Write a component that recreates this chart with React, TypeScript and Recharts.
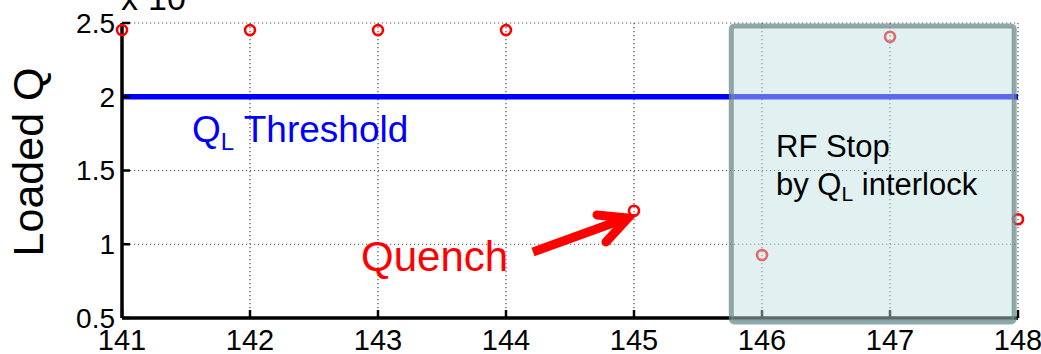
import React from 'react';
import {
  ComposedChart,
  Scatter,
  XAxis,
  YAxis,
  CartesianGrid,
  ReferenceLine,
  ReferenceArea,
} from 'recharts';

const days = [141, 142, 143, 144, 145, 146, 147, 148];
const loadedQ = [2.453, 2.452, 2.452, 2.452, 1.227, 0.927, 2.407, 1.17];
const xTicks = [141, 142, 143, 144, 145, 146, 147, 148];
const yTicks = [0.5, 1, 1.5, 2, 2.5];
const threshold = 2.0;
const stopStart = 145.76;
const stopEnd = 147.97;
const stopLow = 0.473;
const stopHigh = 2.48;

const data = days.map((d, i) => ({ x: d, y: loadedQ[i] }));

const FONT = '"Liberation Sans", Arial, sans-serif';

const Ring = (props: any) => {
  const { cx, cy } = props;
  if (cx == null || cy == null) return null;
  return <circle cx={cx} cy={cy} r={5} fill="none" stroke="#ff0000" strokeWidth={2.6} />;
};

export default function App() {
  return (
    <div style={{ position: 'absolute', left: 0, top: 0, width: 1041, height: 354, background: '#fff', fontFamily: FONT }}>
      <ComposedChart
        width={1041}
        height={354}
        data={data}
        margin={{ top: 23, right: 23, bottom: 0, left: 0 }}
      >
        <CartesianGrid stroke="#555" strokeDasharray="1.2 2.8" strokeWidth={1.2} />
        <XAxis
          dataKey="x"
          type="number"
          domain={[141, 148]}
          ticks={xTicks}
          height={36}
          axisLine={{ stroke: '#000', strokeWidth: 3.5 }}
          tickLine={{ stroke: '#000', strokeWidth: 2.5 }}
          tickSize={-8}
          tickMargin={19}
          tick={{ fill: '#000', fontSize: 29, fontFamily: FONT }}
          interval={0}
        />
        <XAxis
          xAxisId="top"
          orientation="top"
          type="number"
          domain={[141, 148]}
          ticks={xTicks}
          height={0}
          axisLine={{ stroke: '#000', strokeWidth: 3.5 }}
          tickLine={{ stroke: '#000', strokeWidth: 2.5 }}
          tickSize={-8}
          tickFormatter={() => ''}
        />
        <YAxis
          dataKey="y"
          type="number"
          domain={[0.5, 2.5]}
          ticks={yTicks}
          width={122}
          axisLine={{ stroke: '#000', strokeWidth: 3.5 }}
          tickLine={{ stroke: '#000', strokeWidth: 2.5 }}
          tickSize={-8}
          tickMargin={15}
          tick={{ fill: '#000', fontSize: 28, fontFamily: FONT }}
          interval={0}
        />
        <YAxis
          yAxisId="right"
          orientation="right"
          type="number"
          domain={[0.5, 2.5]}
          ticks={yTicks}
          width={0}
          axisLine={{ stroke: '#000', strokeWidth: 3.5 }}
          tickLine={{ stroke: '#000', strokeWidth: 2.5 }}
          tickSize={-8}
          tickFormatter={() => ''}
        />
        <ReferenceLine y={threshold} stroke="#0000ff" strokeWidth={5.5} />
        <Scatter data={data} dataKey="y" shape={<Ring />} isAnimationActive={false} />
        <ReferenceArea
          x1={stopStart}
          x2={stopEnd}
          y1={stopLow}
          y2={stopHigh}
          ifOverflow="visible"
          fill="rgb(192,224,226)"
          fillOpacity={0.47}
          stroke="rgb(104,136,136)"
          strokeOpacity={0.72}
          strokeWidth={5}
          radius={3}
          zIndex={2000}
        />
      </ComposedChart>
      <svg
        width={1041}
        height={354}
        style={{ position: 'absolute', left: 0, top: 0, pointerEvents: 'none' }}
        fontFamily={FONT}
      >
        <text x={121} y={10} fontSize={34} fill="#000">x</text>
        <text x={148} y={10} fontSize={34} fill="#000">10</text>
        <text
          x={43}
          y={162}
          fontSize={43}
          fill="#000"
          textAnchor="middle"
          transform="rotate(-90 43 162)"
        >
          Loaded Q
        </text>
        <text x={192} y={142} fontSize={37} fill="#0000ff">
          Q<tspan fontSize={24} dy={8}>L</tspan>
          <tspan dy={-8}> Threshold</tspan>
        </text>
        <text x={361} y={271} fontSize={42} fill="#ff0000">Quench</text>
        <line x1={533} y1={252} x2={624} y2={219} stroke="#ff0000" strokeWidth={9} />
        <polyline
          points="597,215 628,218 606,242"
          fill="none"
          stroke="#ff0000"
          strokeWidth={9}
          strokeLinejoin="miter"
          strokeLinecap="round"
        />
        <text x={776} y={157} fontSize={31} fill="#000">RF Stop</text>
        <text x={776} y={195} fontSize={31} fill="#000">
          by Q<tspan fontSize={21} dy={6}>L</tspan>
          <tspan dy={-6}> interlock</tspan>
        </text>
      </svg>
    </div>
  );
}
